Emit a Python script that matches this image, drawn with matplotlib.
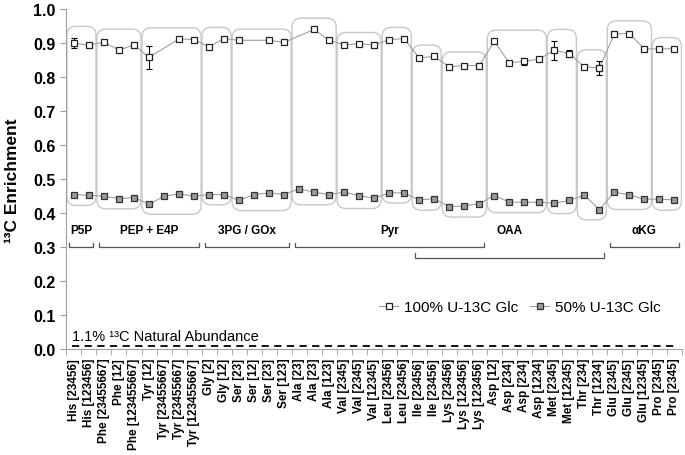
import numpy as np
import matplotlib
matplotlib.use("Agg")
import matplotlib.pyplot as plt
from matplotlib.patches import FancyBboxPatch

plt.rcParams['font.family'] = ['Liberation Sans', 'DejaVu Sans']

# fragment labels along the x axis
labels = ['His [23456]', 'His [123456]', 'Phe [23455667]', 'Phe [12]', 'Phe [123455667]',
          'Tyr [12]', 'Tyr [23455667]', 'Tyr [23455667]', 'Tyr [123455667]',
          'Gly [2]', 'Gly [12]', 'Ser [23]', 'Ser [12]', 'Ser [23]', 'Ser [123]',
          'Ala [23]', 'Ala [23]', 'Ala [123]', 'Val [2345]', 'Val [2345]', 'Val [12345]',
          'Leu [23456]', 'Leu [23456]', 'Ile [23456]', 'Ile [23456]',
          'Lys [23456]', 'Lys [123456]', 'Lys [123456]',
          'Asp [12]', 'Asp [234]', 'Asp [234]', 'Asp [1234]', 'Met [2345]', 'Met [12345]',
          'Thr [234]', 'Thr [1234]', 'Glu [2345]', 'Glu [2345]', 'Glu [12345]',
          'Pro [2345]', 'Pro [2345]']

# 100% U-13C glucose (nan = not measured)
full_glc = [0.900, 0.893, 0.903, 0.879, 0.895, 0.858, np.nan, 0.912, 0.910,
            0.889, 0.913, 0.908, np.nan, 0.908, 0.902, np.nan, 0.940, 0.908,
            0.895, 0.898, 0.894, 0.910, 0.913, 0.856, 0.861, 0.830, 0.834, 0.834,
            0.905, 0.842, 0.846, 0.853, 0.879, 0.869, 0.830, 0.827,
            0.927, 0.928, 0.883, 0.883, 0.883]
full_err = [0.016, 0, 0.005, 0, 0, 0.034, 0, 0, 0,
            0, 0, 0, 0, 0, 0, 0, 0, 0,
            0, 0, 0, 0, 0, 0.004, 0, 0, 0, 0.007,
            0, 0.005, 0.010, 0, 0.028, 0.010, 0, 0.020,
            0, 0.004, 0, 0, 0]

# 50% U-13C glucose
half_glc = [0.455, 0.453, 0.450, 0.443, 0.446, 0.427, 0.450, 0.457, 0.450,
            0.455, 0.455, 0.438, 0.455, 0.460, 0.455, 0.472, 0.462, 0.455,
            0.462, 0.452, 0.444, 0.460, 0.460, 0.439, 0.443, 0.419, 0.422, 0.428,
            0.452, 0.433, 0.432, 0.433, 0.429, 0.438, 0.453, 0.411,
            0.462, 0.454, 0.441, 0.442, 0.439]

# precursor groups
group_names = ['P5P', 'PEP + E4P', '3PG / GOx', 'Pyr', 'OAA', 'αKG']
group_start = [0, 2, 9, 15, 23, 36]
group_end = [1, 8, 14, 27, 35, 40]
group_row = [0, 0, 0, 0, 1, 0]

natural_abundance = 0.011

x = np.arange(len(labels))
full = np.array(full_glc)
ferr = np.array(full_err)
half = np.array(half_glc)
ok = ~np.isnan(full)

fig = plt.figure(figsize=(6.85, 4.56), dpi=100)
ax = fig.add_axes([0.097, 0.2314, 0.8985, 0.7467])
ax.set_xlim(-0.5, len(labels) - 0.5)
ax.set_ylim(0, 1.0)

# rounded boxes around each amino acid
# aspect so corners look round on screen
p0 = ax.transData.transform((0, 0))
p1 = ax.transData.transform((1, 1))
aspect = (p1[0] - p0[0]) / (p1[1] - p0[1])
names = [s.split()[0] for s in labels]
i = 0
while i < len(names):
    j = i
    while j + 1 < len(names) and names[j + 1] == names[i]:
        j += 1
    top = np.nanmax(full[i:j + 1] + ferr[i:j + 1]) + 0.033
    bot = np.min(half[i:j + 1]) - 0.03
    box = FancyBboxPatch((i - 0.47, bot), j - i + 0.94, top - bot,
                         boxstyle="round,pad=0,rounding_size=0.6",
                         mutation_aspect=aspect, fc='none', ec='#c8c8c8', lw=1, zorder=1)
    ax.add_patch(box)
    i = j + 1

ax.plot(x[ok], full[ok], color='#a0a0a0', lw=0.8, zorder=2)
ax.plot(x, half, color='#a0a0a0', lw=0.8, zorder=2)
has_err = ferr > 0
ax.errorbar(x[has_err], full[has_err], yerr=ferr[has_err], fmt='none',
            ecolor='black', elinewidth=0.8, capsize=2.5, capthick=0.8, zorder=3)
ax.plot(x[ok], full[ok], 's', ms=4.8, mfc='white', mec='#222222', mew=0.9, zorder=4)
ax.plot(x, half, 's', ms=4.8, mfc='#9a9a9a', mec='#333333', mew=0.9, zorder=4)

# legend handles
h1, = ax.plot([], [], '-s', color='#a0a0a0', lw=0.8, ms=4.5, mfc='white', mec='#222222', mew=0.9)
h2, = ax.plot([], [], '-s', color='#a0a0a0', lw=0.8, ms=4.5, mfc='#9a9a9a', mec='#333333', mew=0.9)
ax.legend([h1, h2], ['100% U-13C Glc', '50% U-13C Glc'], ncol=2, frameon=False,
          loc='center', bbox_to_anchor=(0.737, 0.125), fontsize=11,
          handlelength=1.2, handletextpad=0.4, columnspacing=0.8)

# group brackets and names
for name, s, e, r in zip(group_names, group_start, group_end, group_row):
    yb = 0.30 - 0.03 * r
    x0, x1 = s - 0.3, e + 0.3
    ax.plot([x0, x0, x1, x1], [yb + 0.012, yb, yb, yb + 0.012], color='#555555', lw=0.9)
    ax.text((s + e) / 2, 0.35, name, ha='center', va='center', fontsize=8.5, fontweight='bold')

# natural abundance
ax.plot([-0.1, len(labels) - 0.9], [natural_abundance, natural_abundance], color='black',
        lw=1.3, ls=(0, (4, 3)))
ax.text(-0.1, 0.04, '1.1% ¹³C Natural Abundance', fontsize=10.5, va='center', ha='left')

for side in ['top', 'right']:
    ax.spines[side].set_visible(False)
for side in ['left', 'bottom']:
    ax.spines[side].set_color('#a0a0a0')

ax.set_yticks(np.arange(0, 1.01, 0.1))
ax.set_yticklabels(['%.1f' % v for v in np.arange(0, 1.01, 0.1)], fontsize=11.5, fontweight='bold')
ax.tick_params(axis='y', length=4, color='#a0a0a0', pad=4)
ax.set_xticks(x)
ax.set_xticklabels(labels, rotation=90, fontsize=8.5, fontweight='bold')
ax.tick_params(axis='x', which='major', length=0, pad=6)
ax.set_xticks(np.arange(-0.5, len(labels)), minor=True)
ax.tick_params(axis='x', which='minor', length=4, color='#a0a0a0')

ax.set_ylabel('¹³C Enrichment', fontsize=12.5, fontweight='bold')
ax.yaxis.set_label_coords(-0.075, 0.5)

fig.savefig('out.png', dpi=100)
